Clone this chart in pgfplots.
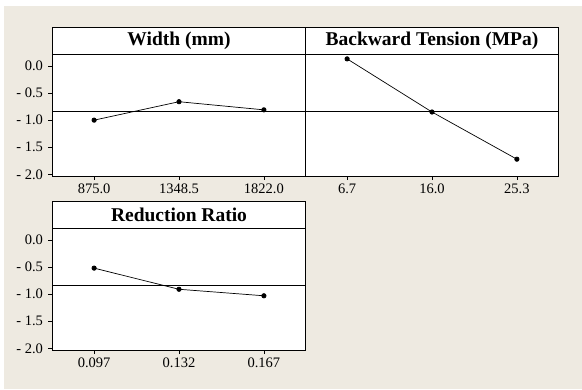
\documentclass[border=0pt]{standalone}
\usepackage{pgfplots}
\pgfplotsset{compat=1.18}
\usepackage{fontspec}
\setmainfont{Liberation Serif}
\definecolor{beige}{RGB}{238,234,225}
\pgfplotsset{
  every axis title shift=0pt,
  panel/.style={
    scale only axis, width=253pt, height=122pt,
    anchor=south west,
    xmin=-0.49, xmax=2.49, ymin=-2.03, ymax=0.22,
    axis background/.style={fill=white},
    axis line style={black, line width=0.8pt},
    tick align=outside, tick pos=left, major tick length=4pt,
    tick style={black, line width=0.8pt},
    xtick={0,1,2},
    ytick={-2,-1.5,-1,-0.5,0},
    yticklabels={- 2.0,- 1.5,- 1.0,- 0.5,0.0},
    ticklabel style={font=\fontsize{14.5}{17}\selectfont},
    yticklabel style={xshift=-2pt},
    title style={at={(0.5,1)}, anchor=south, yshift=0pt, draw=black, line width=0.8pt,
      fill=white, minimum width=253pt, minimum height=27pt, inner sep=0pt, outer sep=0pt,
      font=\fontsize{19.5}{22}\selectfont\bfseries},
  },
  dat/.style={black, line width=0.7pt, mark=*, mark size=2.2pt},
  mean/.style={black, line width=0.7pt, no marks},
}
\begin{document}
\begin{tikzpicture}
\fill[white] (0,0) rectangle (582pt,389pt);
\fill[beige] (4pt,0) rectangle (582pt,383pt);
\begin{axis}[panel, at={(52.5pt,213pt)}, title={Width (mm)},
  xticklabels={875.0,1348.5,1822.0}]
\addplot[mean] coordinates {(-0.49,-0.83) (2.49,-0.83)};
\addplot[dat] coordinates {(0,-1.00) (1,-0.66) (2,-0.81)};
\end{axis}
\begin{axis}[panel, at={(305.5pt,213pt)}, title={Backward Tension (MPa)},
  xticklabels={6.7,16.0,25.3}, ytick=\empty]
\addplot[mean] coordinates {(-0.49,-0.83) (2.49,-0.83)};
\addplot[dat] coordinates {(0,0.13) (1,-0.85) (2,-1.72)};
\end{axis}
\begin{axis}[panel, at={(52.5pt,39pt)}, title={Reduction Ratio},
  xticklabels={0.097,0.132,0.167}]
\addplot[mean] coordinates {(-0.49,-0.83) (2.49,-0.83)};
\addplot[dat] coordinates {(0,-0.52) (1,-0.91) (2,-1.03)};
\end{axis}
\end{tikzpicture}
\end{document}
